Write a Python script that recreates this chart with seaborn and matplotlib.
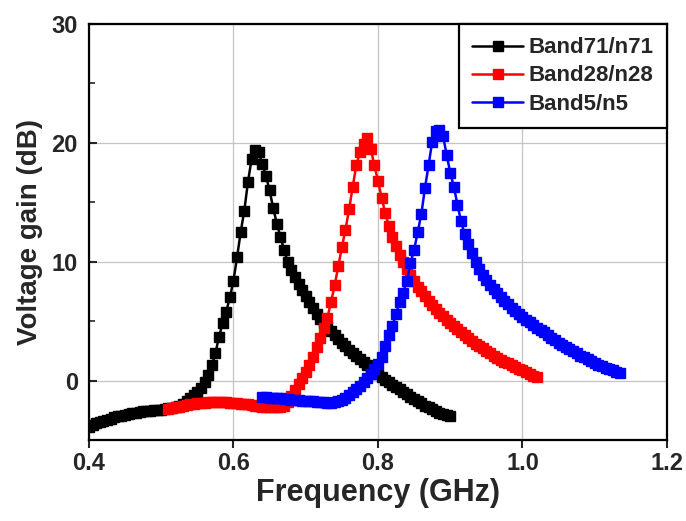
import numpy as np
import pandas as pd
import matplotlib
matplotlib.use("Agg")
import matplotlib.pyplot as plt
import seaborn as sns
from matplotlib.ticker import MultipleLocator

# ---------------- data ----------------
labels = ["Band71/n71", "Band28/n28", "Band5/n5"]
colors = ["#000000", "#ff0000", "#0000ff"]
freq_step = 0.005  # GHz sampling step of the measured sweeps
start_freqs = [0.400, 0.510, 0.640]

gain_b71 = [
    -3.9, -3.75, -3.6, -3.5, -3.4, -3.3, -3.2, -3.1, -3.0, -2.95,
    -2.9, -2.8, -2.75, -2.7, -2.65, -2.6, -2.6, -2.55, -2.5, -2.5,
    -2.45, -2.4, -2.35, -2.3, -2.2, -2.1, -1.95, -1.75, -1.5, -1.25,
    -1.0, -0.6, -0.1, 0.5, 1.3, 2.3, 3.7, 4.8, 5.8, 7.0,
    8.4, 10.4, 12.5, 14.3, 16.7, 18.6, 19.4, 19.2, 18.2, 17.2,
    16.0, 14.5, 13.2, 12.1, 11.0, 10.0, 9.3, 8.7, 8.1, 7.6,
    7.1, 6.6, 6.1, 5.6, 5.2, 4.85, 4.5, 4.15, 3.8, 3.5,
    3.2, 2.9, 2.6, 2.3, 2.05, 1.8, 1.55, 1.3, 1.05, 0.8,
    0.55, 0.3, 0.05, -0.15, -0.35, -0.55, -0.75, -0.95, -1.15, -1.35,
    -1.55, -1.75, -1.9, -2.1, -2.25, -2.4, -2.55, -2.7, -2.8, -2.9,
    -3.0,
]

gain_b28 = [
    -2.4, -2.3, -2.25, -2.2, -2.1, -2.05, -2.0, -1.95, -1.9, -1.85,
    -1.85, -1.8, -1.8, -1.8, -1.8, -1.8, -1.8, -1.85, -1.9, -1.9,
    -1.95, -2.0, -2.0, -2.05, -2.1, -2.15, -2.2, -2.25, -2.25, -2.25,
    -2.25, -2.2, -2.1, -1.8, -1.3, -0.8, -0.3, 0.2, 0.7, 1.3,
    2.0, 2.8, 3.6, 4.4, 5.3, 6.6, 8.0, 9.6, 11.2, 12.7,
    14.4, 16.3, 18.1, 19.2, 19.9, 20.4, 19.5, 18.1, 16.8, 15.4,
    14.1, 13.0, 12.1, 11.3, 10.6, 10.0, 9.4, 8.9, 8.4, 7.9,
    7.5, 7.1, 6.7, 6.35, 6.0, 5.7, 5.4, 5.1, 4.8, 4.55,
    4.3, 4.05, 3.8, 3.55, 3.3, 3.1, 2.9, 2.7, 2.5, 2.3,
    2.1, 1.9, 1.75, 1.6, 1.45, 1.3, 1.15, 1.0, 0.85, 0.7,
    0.55, 0.4, 0.3,
]

gain_b5 = [
    -1.4, -1.4, -1.45, -1.45, -1.5, -1.5, -1.55, -1.55, -1.6, -1.6,
    -1.65, -1.7, -1.7, -1.75, -1.75, -1.8, -1.8, -1.8, -1.85, -1.85,
    -1.8, -1.75, -1.6, -1.45, -1.25, -1.0, -0.75, -0.45, -0.15, 0.2,
    0.55, 0.95, 1.4, 2.0, 2.9, 3.8, 4.6, 5.6, 6.6, 7.4,
    8.4, 9.9, 11.0, 12.5, 14.0, 16.2, 18.1, 20.1, 21.0, 21.1,
    20.6, 19.0, 17.5, 16.3, 14.8, 13.4, 12.3, 11.5, 10.7, 10.0,
    9.4, 8.9, 8.45, 8.05, 7.7, 7.35, 7.0, 6.7, 6.4, 6.1,
    5.85, 5.6, 5.35, 5.1, 4.9, 4.7, 4.45, 4.25, 4.05, 3.85,
    3.6, 3.4, 3.2, 3.0, 2.85, 2.65, 2.45, 2.3, 2.1, 1.95,
    1.8, 1.65, 1.5, 1.35, 1.2, 1.05, 0.95, 0.85, 0.75, 0.65,
]

gains = [gain_b71, gain_b28, gain_b5]

x_ticks = [0.4, 0.6, 0.8, 1.0, 1.2]
y_ticks = [0, 10, 20, 30]

# ---------------- style ----------------
sns.set_style("white")
plt.rcParams["font.family"] = ["Liberation Sans", "DejaVu Sans"]
plt.rcParams["font.weight"] = "bold"
plt.rcParams["axes.labelweight"] = "bold"

fig = plt.figure(figsize=(6.86, 5.21), dpi=100)
ax = fig.add_axes([0.1297, 0.1555, 0.8426, 0.7985])

frames = []
for lab, f0, g in zip(labels, start_freqs, gains):
    f = f0 + freq_step * np.arange(len(g))
    frames.append(pd.DataFrame({"Frequency": f, "Gain": g, "Band": lab}))
df = pd.concat(frames, ignore_index=True)

for lab, col in zip(labels, colors):
    sub = df[df["Band"] == lab]
    sns.lineplot(data=sub, x="Frequency", y="Gain", ax=ax, color=col,
                 marker="s", linewidth=1.8, label=lab,
                 estimator=None, sort=False, zorder=3)

# enlarge the square markers (seaborn passes its own marker defaults)
for line in ax.get_lines():
    line.set_markersize(6.8)
    line.set_markeredgewidth(1.0)
    line.set_markeredgecolor(line.get_color())
    line.set_markerfacecolor(line.get_color())

ax.set_xlim(0.4, 1.2)
ax.set_ylim(-5, 30)
ax.set_xticks(x_ticks)
ax.set_xticklabels([f"{v:.1f}" for v in x_ticks])
ax.set_yticks(y_ticks)
ax.yaxis.set_minor_locator(MultipleLocator(5))

ax.grid(True, which="major", color="#c4c4c4", linewidth=0.9, zorder=0)
ax.set_axisbelow(True)

for s in ax.spines.values():
    s.set_linewidth(1.6)
    s.set_color("black")

ax.tick_params(axis="x", which="major", direction="out", length=6, width=1.5,
               labelsize=17, pad=3, bottom=True)
ax.tick_params(axis="y", which="major", direction="in", length=6, width=1.5,
               labelsize=17, pad=8, left=True)
ax.tick_params(axis="y", which="minor", direction="in", length=4, width=1.2,
               left=True)
for t in ax.get_xticklabels() + ax.get_yticklabels():
    t.set_fontweight("bold")

ax.set_xlabel("Frequency (GHz)", fontsize=22, fontweight="bold", labelpad=2)
ax.set_ylabel("Voltage gain (dB)", fontsize=20, fontweight="bold", labelpad=6)

leg = ax.legend(loc="upper right", borderaxespad=0, fancybox=False,
                framealpha=1, edgecolor="black",
                handlelength=2.3, handletextpad=0.25, labelspacing=0.32,
                borderpad=0.6, prop={"weight": "bold", "size": 16})
leg.get_frame().set_linewidth(1.6)
for h in leg.legend_handles:
    h.set_markersize(6.8)
    h.set_markeredgewidth(1.0)
    h.set_markeredgecolor(h.get_color())

fig.savefig("out.png", dpi=100)
